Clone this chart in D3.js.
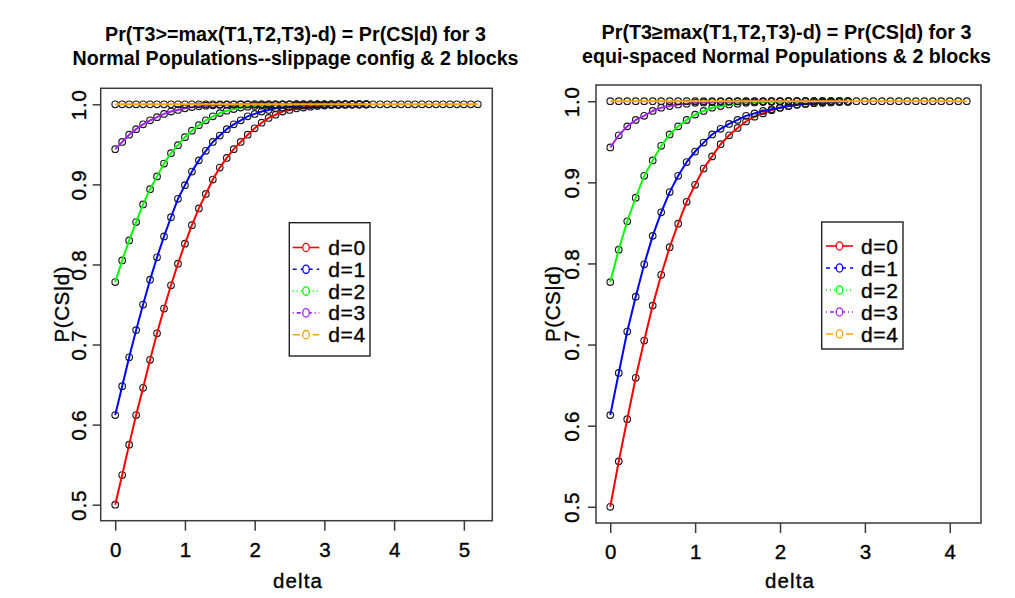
<!DOCTYPE html>
<html><head><meta charset="utf-8">
<script src="https://cdn.jsdelivr.net/npm/d3@7/dist/d3.min.js"></script>
<style>
html,body{margin:0;padding:0;background:#fff;}
svg{display:block;font-family:"Liberation Sans",Arial,Helvetica,sans-serif;}
</style></head>
<body>
<svg id="chart" width="1015" height="598"></svg>
<script>
// ---------- DATA ----------
const deltaLeft = [0,0.1,0.2,0.3,0.4,0.5,0.6,0.7,0.8,0.9,1.0,1.1,1.2,1.3,1.4,1.5,1.6,1.7,1.8,1.9,2.0,2.1,2.2,2.3,2.4,2.5,2.6,2.7,2.8,2.9,3.0,3.1,3.2,3.3,3.4,3.5,3.6];
const deltaLeftLong = [0,0.1,0.2,0.3,0.4,0.5,0.6,0.7,0.8,0.9,1.0,1.1,1.2,1.3,1.4,1.5,1.6,1.7,1.8,1.9,2.0,2.1,2.2,2.3,2.4,2.5,2.6,2.7,2.8,2.9,3.0,3.1,3.2,3.3,3.4,3.5,3.6,3.7,3.8,3.9,4.0,4.1,4.2,4.3,4.4,4.5,4.6,4.7,4.8,4.9,5.0,5.1,5.2];
const deltaRight = [0,0.1,0.2,0.3,0.4,0.5,0.6,0.7,0.8,0.9,1.0,1.1,1.2,1.3,1.4,1.5,1.6,1.7,1.8,1.9,2.0,2.1,2.2,2.3,2.4,2.5,2.6,2.7,2.8];
const deltaRightLong = [0,0.1,0.2,0.3,0.4,0.5,0.6,0.7,0.8,0.9,1.0,1.1,1.2,1.3,1.4,1.5,1.6,1.7,1.8,1.9,2.0,2.1,2.2,2.3,2.4,2.5,2.6,2.7,2.8,2.9,3.0,3.1,3.2,3.3,3.4,3.5,3.6,3.7,3.8,3.9,4.0,4.1,4.2];

// Left panel: slippage configuration
const leftD0 = [0.500,0.537,0.575,0.612,0.646,0.681,0.714,0.745,0.774,0.801,0.826,0.849,0.870,0.888,0.906,0.921,0.933,0.944,0.953,0.962,0.970,0.977,0.983,0.987,0.991,0.993,0.995,0.996,0.997,0.998,0.9985,0.999,0.9993,0.9995,0.9997,0.9998,0.9999];
const leftD1 = [0.612,0.648,0.684,0.718,0.750,0.781,0.809,0.835,0.859,0.882,0.899,0.916,0.930,0.942,0.953,0.961,0.969,0.975,0.980,0.985,0.988,0.991,0.993,0.995,0.996,0.997,0.998,0.9985,0.999,0.9993,0.9995,0.9996,0.9997,0.9998,0.9999,0.9999,1.0];
const leftD2 = [0.778,0.805,0.830,0.853,0.875,0.894,0.910,0.926,0.939,0.949,0.959,0.967,0.974,0.980,0.985,0.989,0.992,0.994,0.996,0.997,0.998,0.9985,0.999,0.9993,0.9995,0.9997,0.9998,0.9999,0.9999,1.0,1.0,1.0,1.0,1.0,1.0,1.0,1.0];
const leftD3 = [0.944,0.953,0.962,0.969,0.975,0.980,0.984,0.988,0.991,0.993,0.995,0.9965,0.9975,0.9983,0.9988,0.9992,0.9995,0.9997,0.9998,0.9999,1.0,1.0,1.0,1.0,1.0,1.0,1.0,1.0,1.0,1.0,1.0,1.0,1.0,1.0,1.0,1.0,1.0];
const leftD4 = [1,1,1,1,1,1,1,1,1,1,1,1,1,1,1,1,1,1,1,1,1,1,1,1,1,1,1,1,1,1,1,1,1,1,1,1,1,1,1,1,1,1,1,1,1,1,1,1,1,1,1,1,1];

// Right panel: equi-spaced configuration
const rightD0 = [0.500,0.556,0.608,0.659,0.705,0.748,0.786,0.820,0.849,0.876,0.897,0.917,0.932,0.947,0.958,0.967,0.975,0.981,0.985,0.989,0.992,0.994,0.996,0.997,0.998,0.9985,0.999,0.9993,0.9995];
const rightD1 = [0.613,0.665,0.716,0.759,0.799,0.834,0.863,0.888,0.908,0.925,0.938,0.949,0.959,0.966,0.972,0.977,0.982,0.985,0.988,0.990,0.992,0.994,0.9955,0.9965,0.9975,0.998,0.9985,0.999,0.9993];
const rightD2 = [0.777,0.817,0.852,0.881,0.908,0.927,0.945,0.959,0.969,0.977,0.9835,0.988,0.992,0.994,0.996,0.997,0.998,0.9985,0.999,0.9993,0.9995,0.9997,0.9998,0.9998,0.9999,0.9999,1.0,1.0,1.0];
const rightD3 = [0.943,0.958,0.969,0.977,0.982,0.988,0.992,0.994,0.996,0.997,0.998,0.9985,0.999,0.9993,0.9995,0.9997,0.9998,0.9999,0.9999,1.0,1.0,1.0,1.0,1.0,1.0,1.0,1.0,1.0,1.0];
const rightD4 = [1,1,1,1,1,1,1,1,1,1,1,1,1,1,1,1,1,1,1,1,1,1,1,1,1,1,1,1,1,1,1,1,1,1,1,1,1,1,1,1,1,1,1];

const legendLabels = ["d=0","d=1","d=2","d=3","d=4"];
const seriesColors = ["#ff0000","#0000ff","#00ff00","#a020f0","#ffa500"];
const legendDash = ["none","4,4","1,3","1,3,4,3","7,3"];
const xTicksLeft = [0,1,2,3,4,5];
const xTicksRight = [0,1,2,3,4];
const yTicks = [0.5,0.6,0.7,0.8,0.9,1.0];
const titleLeft = ["Pr(T3>=max(T1,T2,T3)-d) = Pr(CS|d) for 3","Normal Populations--slippage config & 2 blocks"];
const titleRight = ["Pr(T3\u2265max(T1,T2,T3)-d) = Pr(CS|d) for 3","equi-spaced Normal Populations & 2 blocks"];
const xLabel = "delta";
const yLabel = "P(CS|d)";

// ---------- DRAW ----------
const svg = d3.select("#chart");
const INK = "#3a3a3a";
const FONT = '"Liberation Sans",Arial,sans-serif';

function panel(cfg){
  const x = d3.scaleLinear().domain(cfg.xDomain).range([cfg.left, cfg.right]);
  const y = d3.scaleLinear().domain([0.48, 1.02]).range([cfg.bottom, cfg.top]);
  const g = svg.append("g");

  // series: points then line
  cfg.series.forEach((s, i) => {
    const pts = s.x.map((d, k) => [d, s.y[k]]);
    g.append("g").selectAll("circle").data(pts).join("circle")
      .attr("cx", d => x(d[0])).attr("cy", d => y(d[1])).attr("r", 3.3)
      .attr("fill", "none").attr("stroke", "#1a1a1a").attr("stroke-width", 1.15);
    g.append("path").datum(pts)
      .attr("d", d3.line().x(d => x(d[0])).y(d => y(d[1])))
      .attr("fill", "none").attr("stroke", seriesColors[i]).attr("stroke-width", 2);
  });

  // box
  g.append("rect").attr("x", cfg.left).attr("y", cfg.top)
    .attr("width", cfg.right - cfg.left).attr("height", cfg.bottom - cfg.top)
    .attr("fill", "none").attr("stroke", INK).attr("stroke-width", 1.5);

  // x axis
  const xa = g.append("g").attr("transform", `translate(0,${cfg.bottom})`)
    .call(d3.axisBottom(x).tickValues(cfg.xTicks).tickSize(10).tickFormat(d3.format("d")));
  xa.select(".domain").remove();
  xa.selectAll("line").attr("stroke", INK).attr("stroke-width", 1.5);
  xa.selectAll("text").attr("font-size", 20.5).attr("fill", "#000").attr("font-family", FONT)
    .attr("stroke", "#000").attr("stroke-width", 0.35)
    .attr("y", 0).attr("dy", 0).attr("transform", "translate(0,36)");

  // y axis
  const ya = g.append("g").attr("transform", `translate(${cfg.left},0)`)
    .call(d3.axisLeft(y).tickValues(yTicks).tickSize(8).tickFormat(d3.format(".1f")));
  ya.select(".domain").remove();
  ya.selectAll("line").attr("stroke", INK).attr("stroke-width", 1.5);
  ya.selectAll("text").attr("font-size", 20.5).attr("fill", "#000").attr("font-family", FONT)
    .attr("stroke", "#000").attr("stroke-width", 0.35)
    .attr("x", 0).attr("dy", 0).attr("text-anchor", "middle").attr("letter-spacing", 0.8)
    .attr("transform", `translate(${-cfg.yTickOff},0) rotate(-90)`);

  // axis labels
  const cx = (cfg.left + cfg.right) / 2;
  svg.append("text").attr("x", cx + 1).attr("y", 588).attr("text-anchor", "middle")
    .attr("font-size", 20.5).attr("stroke", "#000").attr("stroke-width", 0.35)
    .attr("textLength", 49).attr("lengthAdjust", "spacing").text(xLabel);
  svg.append("text").attr("text-anchor", "middle").attr("font-size", 20.5)
    .attr("stroke", "#000").attr("stroke-width", 0.35)
    .attr("textLength", 76).attr("lengthAdjust", "spacing")
    .attr("transform", `translate(${cfg.yLabelX},${(cfg.top + cfg.bottom) / 2}) rotate(-90)`)
    .text(yLabel);

  // title
  cfg.title.forEach((t, i) => {
    svg.append("text").attr("x", cfg.titleX).attr("y", cfg.titleY[i]).attr("text-anchor", "middle")
      .attr("font-size", 19.6).attr("font-weight", "bold")
      .attr("textLength", cfg.titleW[i]).attr("lengthAdjust", "spacingAndGlyphs").text(t);
  });

  // legend
  const L = cfg.legend;
  const lg = svg.append("g");
  lg.append("rect").attr("x", L.x0).attr("y", L.y0).attr("width", L.x1 - L.x0).attr("height", L.y1 - L.y0)
    .attr("fill", "#fff").attr("stroke", "#222").attr("stroke-width", 1.4);
  legendLabels.forEach((lab, i) => {
    const yy = L.firstY + i * L.step;
    lg.append("line").attr("x1", L.lx0).attr("x2", L.lx1).attr("y1", yy).attr("y2", yy)
      .attr("stroke", seriesColors[i]).attr("stroke-width", 1.6)
      .attr("stroke-dasharray", legendDash[i]);
    lg.append("ellipse").attr("cx", (L.lx0 + L.lx1) / 2).attr("cy", yy).attr("rx", 3.3).attr("ry", 4.2)
      .attr("fill", "#fff").attr("stroke", seriesColors[i]).attr("stroke-width", 1.3);
    lg.append("text").attr("x", L.tx).attr("y", yy + 7.5).attr("font-size", 21)
      .attr("stroke", "#000").attr("stroke-width", 0.35).attr("letter-spacing", 0.6).text(lab);
  });
}

panel({
  left: 100.7, right: 492.3, top: 88.3, bottom: 520.7,
  xDomain: [-0.208, 5.408], xTicks: xTicksLeft, yTickOff: 15, yLabelX: 69,
  series: [
    {x: deltaLeft, y: leftD0}, {x: deltaLeft, y: leftD1}, {x: deltaLeft, y: leftD2},
    {x: deltaLeft, y: leftD3}, {x: deltaLeftLong, y: leftD4}
  ],
  title: titleLeft, titleX: 295.5, titleY: [40.5, 64.5], titleW: [381, 446],
  legend: {x0: 289.3, x1: 370, y0: 222.7, y1: 356, firstY: 247.5, step: 21.8, lx0: 292.7, lx1: 319.3, tx: 328.3}
});

panel({
  left: 596, right: 981, top: 85, bottom: 523,
  xDomain: [-0.168, 4.368], xTicks: xTicksRight, yTickOff: 17, yLabelX: 560,
  series: [
    {x: deltaRight, y: rightD0}, {x: deltaRight, y: rightD1}, {x: deltaRight, y: rightD2},
    {x: deltaRight, y: rightD3}, {x: deltaRightLong, y: rightD4}
  ],
  title: titleRight, titleX: 786.5, titleY: [39, 62.5], titleW: [370, 409],
  legend: {x0: 821.7, x1: 903, y0: 222, y1: 349, firstY: 246, step: 22, lx0: 826, lx1: 853, tx: 861}
});
</script>
</body></html>
